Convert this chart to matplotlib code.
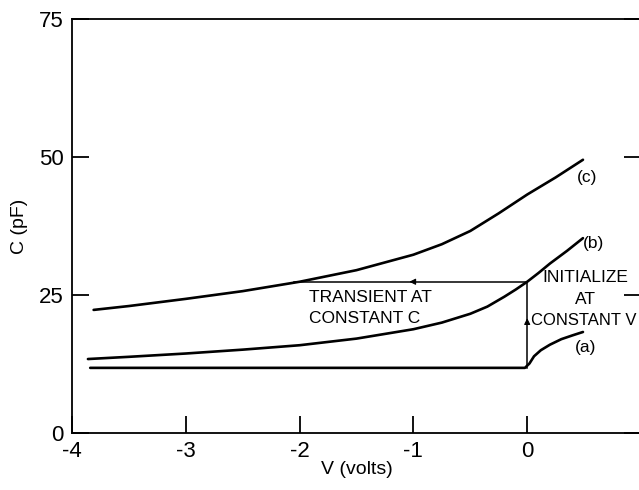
import matplotlib
matplotlib.use("Agg")
import matplotlib.pyplot as plt

# ---- data ----
c_v = [-3.81, -3.5, -3.0, -2.5, -2.0, -1.5, -1.0, -0.75, -0.5, -0.25, 0.0, 0.25, 0.49]
c_c = [22.3, 23.0, 24.3, 25.7, 27.4, 29.5, 32.3, 34.2, 36.6, 39.8, 43.2, 46.3, 49.5]

b_v = [-3.86, -3.5, -3.0, -2.5, -2.0, -1.5, -1.0, -0.75, -0.5, -0.35, -0.2, -0.1, 0.0, 0.1, 0.2, 0.35, 0.49]
b_c = [13.4, 13.8, 14.4, 15.1, 15.9, 17.1, 18.8, 20.0, 21.6, 22.9, 24.7, 26.0, 27.4, 29.0, 30.7, 33.0, 35.3]

a_v = [-3.84, -0.02, 0.02, 0.06, 0.12, 0.2, 0.3, 0.4, 0.49]
a_c = [11.8, 11.8, 12.6, 13.9, 15.0, 16.0, 17.0, 17.7, 18.3]

transient_v = [0.0, -2.05]
transient_c = [27.4, 27.4]
init_v = [0.0, 0.0]
init_c = [11.8, 27.4]

x_ticks = [-4, -3, -2, -1, 0]
x_labels = ["-4", "-3", "-2", "-1", "0"]
y_ticks = [0, 25, 50, 75]
y_labels = ["0", "25", "50", "75"]

plt.rcParams["font.family"] = ["Liberation Sans", "DejaVu Sans"]

fig = plt.figure(figsize=(6.39, 4.90), dpi=100)
ax = fig.add_axes([72/639, 57/490, 569/639, 414/490])
ax.set_xlim(-4, 1.0)
ax.set_ylim(0, 75)

lw = 1.9
for v, c in ((c_v, c_c), (b_v, b_c), (a_v, a_c)):
    ax.plot(v, c, color="black", lw=lw, solid_capstyle="round", solid_joinstyle="round")
ax.plot(transient_v, transient_c, color="black", lw=1.1)
ax.plot(init_v, init_c, color="black", lw=1.1)

# arrowheads
ax.annotate("", xy=(-1.06, 27.4), xytext=(-0.96, 27.4),
            arrowprops=dict(arrowstyle="-|>", color="black", lw=0.8, mutation_scale=9))
ax.annotate("", xy=(0.0, 21.3), xytext=(0.0, 19.8),
            arrowprops=dict(arrowstyle="-|>", color="black", lw=0.8, mutation_scale=9))

tfs = 12.5
ax.text(-1.92, 24.5, "TRANSIENT AT", fontsize=tfs, va="center", ha="left")
ax.text(-1.92, 20.8, "CONSTANT C", fontsize=tfs, va="center", ha="left")
ax.text(0.51, 28.2, "INITIALIZE", fontsize=tfs, va="center", ha="center")
ax.text(0.51, 24.1, "AT", fontsize=tfs, va="center", ha="center")
ax.text(0.50, 20.3, "CONSTANT V", fontsize=12, va="center", ha="center")

ax.text(0.44, 46.2, "(c)", fontsize=tfs, va="center", ha="left")
ax.text(0.49, 34.4, "(b)", fontsize=tfs, va="center", ha="left")
ax.text(0.42, 15.4, "(a)", fontsize=tfs, va="center", ha="left")

ax.set_xticks(x_ticks)
ax.set_xticklabels(x_labels)
ax.set_yticks(y_ticks)
ax.set_yticklabels(y_labels)
ax.tick_params(direction="in", length=12, width=1.3, labelsize=16, pad=6,
               right=True, top=False)

for s in ax.spines.values():
    s.set_linewidth(1.3)

ax.set_xlabel("V (volts)", fontsize=14, labelpad=-1)
ax.set_ylabel("C (pF)", fontsize=14, labelpad=8)

fig.savefig("out.png", dpi=100)
